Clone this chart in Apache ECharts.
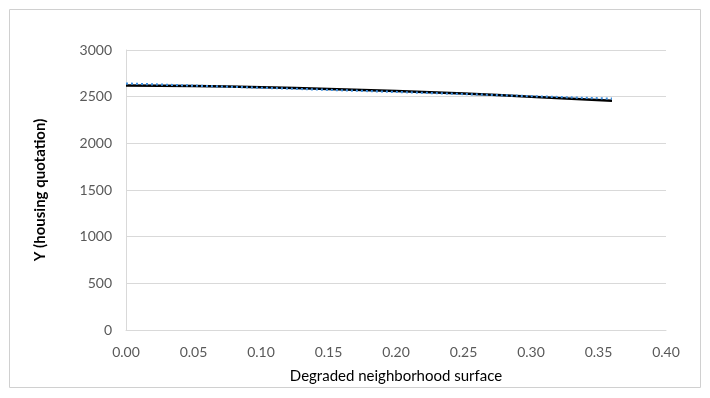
<!DOCTYPE html>
<html><head><meta charset="utf-8">
<script src="https://cdn.jsdelivr.net/npm/echarts@6/dist/echarts.min.js"></script>
<style>html,body{margin:0;padding:0;background:#fff}#c{width:710px;height:398px}</style>
</head><body><div id="c"></div>
<script>
var xCurve = [0, 0.05, 0.10, 0.15, 0.20, 0.25, 0.30, 0.36];
var yCurve = [2619, 2613, 2601, 2583, 2560, 2533, 2500, 2455];
var xTrend = [0, 0.36];
var yTrend = [2641, 2478];
var xTicks = [0, 0.05, 0.10, 0.15, 0.20, 0.25, 0.30, 0.35, 0.40];
var yTicks = [0, 500, 1000, 1500, 2000, 2500, 3000];

function pairs(xs, ys){ return xs.map(function(x,i){return [x, ys[i]];}); }
var chart = echarts.init(document.getElementById('c'));
chart.setOption({
  animation:false,
  textStyle:{fontFamily:'Lato'},
  graphic:[{type:'rect',shape:{x:9.5,y:9.5,width:691,height:378},style:{fill:'none',stroke:'#d0d0d0',lineWidth:1},silent:true}],
  grid:{left:126,right:44,top:50,bottom:68},
  xAxis:{type:'value',min:0,max:0.4,interval:0.05,
    name:'Degraded neighborhood surface',nameLocation:'middle',nameGap:39,
    nameTextStyle:{color:'#000',fontSize:15,fontFamily:'Lato'},
    axisLine:{show:true,lineStyle:{color:'#d9d9d9'}},axisTick:{show:false},
    axisLabel:{color:'#595959',fontSize:14,margin:15,formatter:function(v){return v.toFixed(2);}},
    splitLine:{show:false}},
  yAxis:{type:'value',min:0,max:3000,interval:500,
    name:'Y (housing quotation)',nameLocation:'middle',nameGap:78,
    nameTextStyle:{color:'#000',fontSize:15,fontWeight:'bold',fontFamily:'Lato'},
    axisLine:{show:true,lineStyle:{color:'#d9d9d9'}},axisTick:{show:false},
    axisLabel:{color:'#595959',fontSize:14,margin:14,formatter:function(v){return String(v);}},
    splitLine:{show:true,lineStyle:{color:'#d9d9d9'}}},
  series:[
    {type:'line',data:pairs(xCurve,yCurve),smooth:true,showSymbol:false,lineStyle:{color:'#000',width:2.5},z:2},
    {type:'line',data:pairs(xTrend,yTrend),showSymbol:false,lineStyle:{color:'#3d8fe0',width:2.2,type:[2,3]},z:3}
  ]
});
</script></body></html>
